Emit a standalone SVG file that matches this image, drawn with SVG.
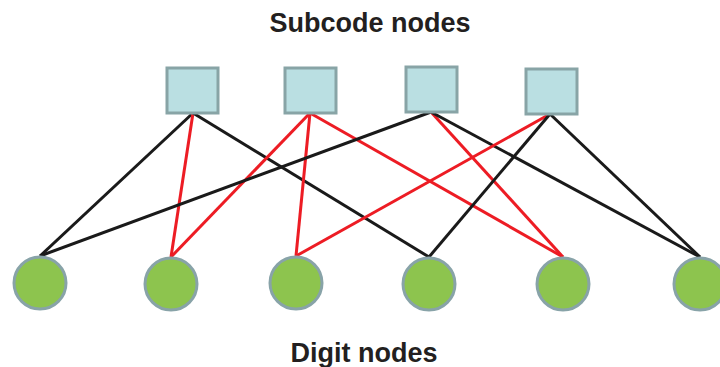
<svg xmlns="http://www.w3.org/2000/svg" width="720" height="367" viewBox="0 0 720 367">
<style>
.t{font-family:"Liberation Sans",Arial,sans-serif;font-weight:bold;font-size:27px;fill:#231f20;text-anchor:middle}
.sq{fill:#badfe2;stroke:#88a4a6;stroke-width:3}
.ci{fill:#8dc44e;stroke:#88a3a8;stroke-width:3}
.k{stroke:#1a1a1a;stroke-width:3;fill:none}
.r{stroke:#ed1c24;stroke-width:3;fill:none}
</style>
<rect width="720" height="367" fill="#fff"/>
<text class="t" x="370" y="32">Subcode nodes</text>
<text class="t" x="364" y="362">Digit nodes</text>
<g id="connectors">
<line class="k" x1="193" y1="113" x2="40" y2="256"/>
<line class="r" x1="193" y1="113" x2="171" y2="257"/>
<line class="k" x1="193" y1="113" x2="429" y2="257"/>
<line class="r" x1="310" y1="113" x2="171" y2="257"/>
<line class="r" x1="310" y1="113" x2="296" y2="256"/>
<line class="r" x1="310" y1="113" x2="563" y2="257"/>
<line class="k" x1="431" y1="112" x2="40" y2="256"/>
<line class="r" x1="431" y1="112" x2="563" y2="257"/>
<line class="k" x1="431" y1="112" x2="700" y2="257"/>
<line class="r" x1="550" y1="114" x2="296" y2="256"/>
<line class="k" x1="550" y1="114" x2="429" y2="257"/>
<line class="k" x1="550" y1="114" x2="700" y2="257"/>
</g>
<g id="s1"><rect class="sq" x="167" y="68" width="51" height="45"/></g>
<g id="s2"><rect class="sq" x="285" y="68" width="51" height="45"/></g>
<g id="s3"><rect class="sq" x="406" y="67" width="51" height="45"/></g>
<g id="s4"><rect class="sq" x="526" y="69" width="51" height="45"/></g>
<g id="d1"><circle class="ci" cx="40" cy="283" r="26"/></g>
<g id="d2"><circle class="ci" cx="171" cy="284" r="26"/></g>
<g id="d3"><circle class="ci" cx="296" cy="283" r="26"/></g>
<g id="d4"><circle class="ci" cx="429" cy="284" r="26"/></g>
<g id="d5"><circle class="ci" cx="563" cy="284" r="26"/></g>
<g id="d6"><circle class="ci" cx="700" cy="284" r="26"/></g>
</svg>
